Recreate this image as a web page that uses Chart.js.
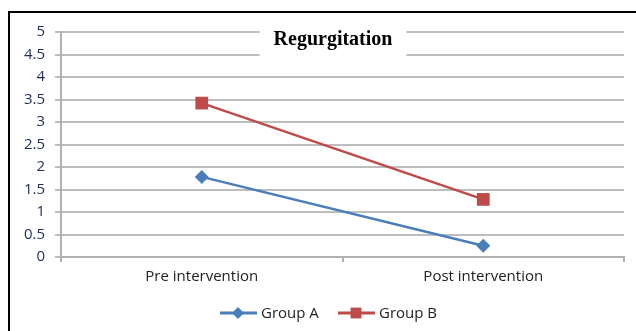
<!DOCTYPE html>
<html>
<head>
<meta charset="utf-8">
<script src="https://cdn.jsdelivr.net/npm/chart.js@4.4.1/dist/chart.umd.min.js"></script>
<style>
  html, body { margin: 0; padding: 0; background: #fff; }
  #wrap { position: relative; width: 636px; height: 331px; overflow: hidden; }
  #frame { position: absolute; left: 8px; top: 11px; width: 700px; height: 400px; border: 2px solid #000; box-sizing: border-box; }
  #c { position: absolute; left: 0; top: 0; }
</style>
</head>
<body>
<div id="wrap">
  <div id="frame"></div>
  <canvas id="c" width="636" height="331"></canvas>
</div>
<script>
var categories = ['Pre intervention', 'Post intervention'];
var groupA = [1.78, 0.25];
var groupB = [3.42, 1.28];
var yTicks = [0, 0.5, 1, 1.5, 2, 2.5, 3, 3.5, 4, 4.5, 5];
var chartTitle = 'Regurgitation';

var blue = '#4a7ebb';
var red = '#be4b48';
var labelFont = "'Open Sans', sans-serif";

// title sits on top of the gridlines with a white box behind it
var titlePlugin = {
	id: 'boxTitle',
	afterDatasetsDraw: function(chart){
		var ctx = chart.ctx;
		ctx.save();
		ctx.font = "bold 20px 'Liberation Serif', serif";
		var w = ctx.measureText(chartTitle).width;
		var cx = 333, cy = 40;
		ctx.fillStyle = '#fff';
		ctx.fillRect(cx - w / 2 - 14, 24, w + 28, 36);
		ctx.fillStyle = '#000';
		ctx.textAlign = 'center';
		ctx.textBaseline = 'middle';
		ctx.fillText(chartTitle, cx, cy);
		ctx.restore();
	}
};

// excel style legend: short line with the marker in the middle
var legendPlugin = {
	id: 'lineLegend',
	afterDraw: function(chart){
		var ctx = chart.ctx;
		var items = chart.data.datasets;
		var starts = [220, 338];
		var y = 313;
		ctx.save();
		ctx.font = "15px " + labelFont;
		ctx.textBaseline = 'middle';
		for(var i in items){
			var ds = items[i];
			var x = starts[i];
			ctx.strokeStyle = ds.borderColor;
			ctx.lineWidth = 3;
			ctx.beginPath();
			ctx.moveTo(x, y);
			ctx.lineTo(x + 37, y);
			ctx.stroke();
			ctx.fillStyle = ds.borderColor;
			Chart.helpers.drawPoint(ctx, {pointStyle: ds.pointStyle, radius: ds.pointRadius * 0.85, borderWidth: 0}, x + 18, y);
			ctx.fillStyle = '#222';
			ctx.fillText(ds.label, x + 41, y + 1);
		}
		ctx.restore();
	}
};

var chartdata = {
	labels: categories,
	datasets: [
		{
			label: 'Group A',
			data: groupA,
			borderColor: blue,
			backgroundColor: blue,
			borderWidth: 2.5,
			pointStyle: 'rectRot',
			pointRadius: 7,
			pointBorderWidth: 0
		},
		{
			label: 'Group B',
			data: groupB,
			borderColor: red,
			backgroundColor: red,
			borderWidth: 2.5,
			pointStyle: 'rect',
			pointRadius: 9,
			pointBorderWidth: 0
		}
	]
};

var ctx = document.getElementById('c');
var lineChart = new Chart(ctx, {
	type: 'line',
	data: chartdata,
	options: {
		responsive: false,
		animation: false,
		layout: { padding: { left: 0, right: 12, top: 32, bottom: 44 } },
		plugins: {
			legend: { display: false },
			title: { display: false },
			tooltip: { enabled: false }
		},
		scales: {
			x: {
				offset: true,
				grid: { offset: true, drawOnChartArea: false, color: '#b0b0b0', lineWidth: 2, tickLength: 5 },
				border: { color: '#b0b0b0', width: 2 },
				ticks: { color: '#222', font: { family: labelFont, size: 15 }, padding: 6 },
				afterFit: function(scale){ scale.height = 30; }
			},
			y: {
				min: 0,
				max: 5,
				afterBuildTicks: function(scale){
					scale.ticks = yTicks.map(function(v){ return { value: v }; });
				},
				grid: { color: '#bdbdbd', lineWidth: 2, tickLength: 6 },
				border: { color: '#b0b0b0', width: 2 },
				ticks: {
					color: '#1f2d5a',
					font: { family: labelFont, size: 15 },
					padding: 10,
					callback: function(v){ return String(v); }
				},
				afterFit: function(scale){ scale.width = 61; }
			}
		}
	},
	plugins: [titlePlugin, legendPlugin]
});
</script>
</body>
</html>
